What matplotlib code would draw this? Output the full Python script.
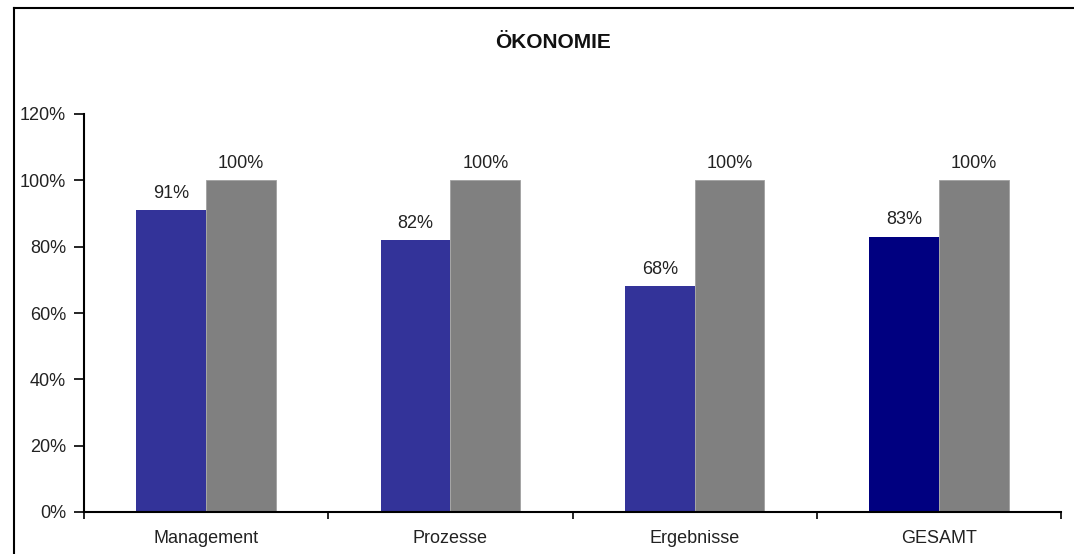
import numpy as np
import matplotlib.pyplot as plt
from matplotlib.ticker import FuncFormatter
from matplotlib.lines import Line2D

plt.rcParams['font.family'] = ['Liberation Sans', 'DejaVu Sans']

categories = ['Management', 'Prozesse', 'Ergebnisse', 'GESAMT']
ist_values = [0.91, 0.82, 0.68, 0.83]
soll_values = [1.00, 1.00, 1.00, 1.00]
ist_colors = ['#333399', '#333399', '#333399', '#000080']
soll_color = '#808080'
title = 'ÖKONOMIE'

fig = plt.figure(figsize=(10.74, 5.54), dpi=100)
ax = fig.add_axes([84 / 1074, 1 - 512 / 554, (1061 - 84) / 1074, (512 - 114) / 554])

x = np.arange(len(categories))
width = 1 / 3.5
b1 = ax.bar(x - width / 2, ist_values, width, color=ist_colors, zorder=2)
b2 = ax.bar(x + width / 2, soll_values, width, color=soll_color,
            edgecolor='#a0a0a0', linewidth=0.6, zorder=2)

for bars in (b1, b2):
    for rect in bars:
        h = rect.get_height()
        ax.annotate(f'{h * 100:.0f}%', (rect.get_x() + rect.get_width() / 2, h),
                    xytext=(0, 6), textcoords='offset points',
                    ha='center', va='bottom', fontsize=13, color='#222222')

ax.set_xlim(-0.5, len(categories) - 0.5)
ax.set_ylim(0, 1.2)
ax.set_yticks(np.arange(0, 1.21, 0.2))
ax.yaxis.set_major_formatter(FuncFormatter(lambda v, p: f'{v * 100:.0f}%'))
ax.set_xticks(x)
ax.set_xticklabels(categories)
ax.set_xticks(np.arange(-0.5, len(categories)), minor=True)
ax.tick_params(axis='x', which='major', length=0, pad=13, labelsize=13, labelcolor='#222222')
ax.tick_params(axis='x', which='minor', length=5, width=1.2, direction='out', color='black')
ax.tick_params(axis='y', length=7, width=1.2, direction='out', labelsize=13,
               labelcolor='#222222', pad=6)
for side in ('top', 'right'):
    ax.spines[side].set_visible(False)
for side in ('left', 'bottom'):
    ax.spines[side].set_linewidth(1.5)

fig.text(553 / 1074, 1 - 42 / 554, title, ha='center', va='center',
         fontsize=15, fontweight='bold', color='#111111')

# outer chart frame (left and top edges visible)
fig.add_artist(Line2D([14 / 1074, 14 / 1074], [0, 1 - 8 / 554], color='black', lw=1.5))
fig.add_artist(Line2D([14 / 1074, 1], [1 - 8 / 554, 1 - 8 / 554], color='black', lw=1.5))

fig.savefig('out.png', dpi=100)
